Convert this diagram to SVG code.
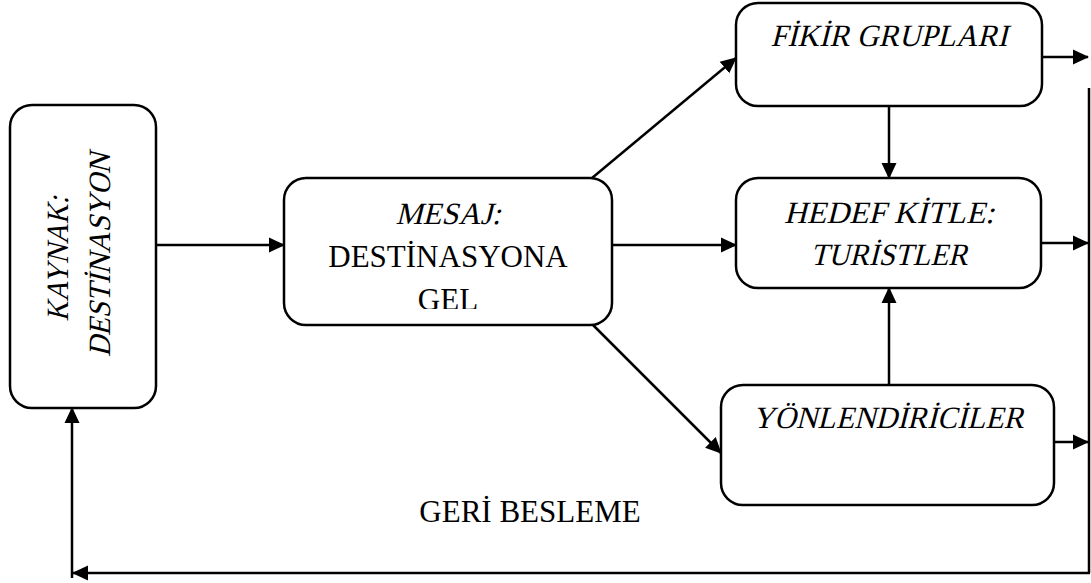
<svg xmlns="http://www.w3.org/2000/svg" width="1091" height="583" viewBox="0 0 1091 583">
  <style>
    .box { fill: #fff; stroke: #000; stroke-width: 2.5; }
    .lbl { font-family: "Liberation Serif", "Times New Roman", serif; font-size: 31px; fill: #000; text-anchor: middle; }
    .wire { fill: none; stroke: #000; stroke-width: 2.5; }
  </style>
  <defs>
    <marker id="arrow" viewBox="0 0 16 16" refX="15" refY="8" markerWidth="16" markerHeight="16" markerUnits="userSpaceOnUse" orient="auto">
      <path d="M0,0.5 L16,8 L0,15.5 Z" fill="#000"/>
    </marker>
    <clipPath id="msgClip">
      <rect x="284" y="178" width="328" height="131"/>
    </clipPath>
  </defs>

  <!-- connectors -->
  <g id="connectors">
    <line class="wire" x1="156" y1="245" x2="284" y2="245" marker-end="url(#arrow)"/>
    <line class="wire" x1="592" y1="178" x2="736" y2="58" marker-end="url(#arrow)"/>
    <line class="wire" x1="612" y1="245" x2="736" y2="245" marker-end="url(#arrow)"/>
    <line class="wire" x1="592" y1="324" x2="721" y2="453" marker-end="url(#arrow)"/>
    <line class="wire" x1="889" y1="106" x2="889" y2="178" marker-end="url(#arrow)"/>
    <line class="wire" x1="889" y1="385" x2="889" y2="288" marker-end="url(#arrow)"/>
    <line class="wire" x1="1042" y1="57" x2="1088" y2="57" marker-end="url(#arrow)"/>
    <line class="wire" x1="1041" y1="243" x2="1088" y2="243" marker-end="url(#arrow)"/>
    <line class="wire" x1="1054" y1="442" x2="1088" y2="442" marker-end="url(#arrow)"/>
    <line class="wire" x1="1089" y1="88" x2="1089" y2="573"/>
    <line class="wire" x1="1090" y1="573" x2="73" y2="573" marker-end="url(#arrow)"/>
    <line class="wire" x1="72" y1="578" x2="72" y2="408" marker-end="url(#arrow)"/>
  </g>

  <!-- source (italic via slanted regular face) -->
  <g id="kaynak">
    <rect class="box" x="10" y="105" width="146" height="303" rx="22"/>
    <text class="lbl" transform="translate(68,259) rotate(-90) skewX(-14)" textLength="125" lengthAdjust="spacingAndGlyphs">KAYNAK:</text>
    <text class="lbl" transform="translate(110,255) rotate(-90) skewX(-14)" textLength="204" lengthAdjust="spacingAndGlyphs">DESTİNASYON</text>
  </g>

  <!-- message -->
  <g id="mesaj">
    <rect class="box" x="284" y="178" width="328" height="147" rx="22"/>
    <g clip-path="url(#msgClip)">
      <text class="lbl" transform="translate(448,224) skewX(-14)" textLength="105" lengthAdjust="spacingAndGlyphs">MESAJ:</text>
      <text class="lbl" x="448" y="267">DESTİNASYONA</text>
      <text class="lbl" x="448" y="310">GEL</text>
    </g>
  </g>

  <!-- opinion groups -->
  <g id="fikir">
    <rect class="box" x="736" y="3" width="306" height="103" rx="22"/>
    <text class="lbl" transform="translate(889,46) skewX(-14)" textLength="237" lengthAdjust="spacingAndGlyphs">FİKİR GRUPLARI</text>
  </g>

  <!-- target audience -->
  <g id="hedef">
    <rect class="box" x="736" y="178" width="305" height="110" rx="22"/>
    <text class="lbl" transform="translate(889,223) skewX(-14)" textLength="210" lengthAdjust="spacingAndGlyphs">HEDEF KİTLE:</text>
    <text class="lbl" transform="translate(889,265) skewX(-14)" textLength="157" lengthAdjust="spacingAndGlyphs">TURİSTLER</text>
  </g>

  <!-- guides -->
  <g id="yonlendiriciler">
    <rect class="box" x="721" y="385" width="333" height="120" rx="22"/>
    <text class="lbl" transform="translate(888,428) skewX(-14)" textLength="271" lengthAdjust="spacingAndGlyphs">YÖNLENDİRİCİLER</text>
  </g>

  <!-- feedback label -->
  <g id="geri-besleme">
    <text class="lbl" x="530" y="522">GERİ BESLEME</text>
  </g>
</svg>
